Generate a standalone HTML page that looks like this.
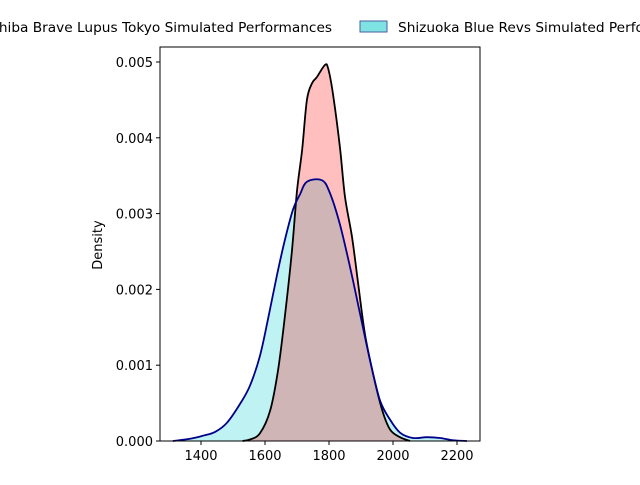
<!DOCTYPE html>
<html><head><meta charset="utf-8"><style>body{margin:0;background:#fff}svg{font-family:"DejaVu Sans","Liberation Sans",sans-serif}</style></head>
<body>
<svg id="c" width="640" height="480" viewBox="0 0 640 480">
<g id="plot"></g>
<g id="axes"></g>
<g>
<text x="332" y="32" font-size="13.7" text-anchor="end">Chiba Brave Lupus Tokyo Simulated Performances</text>
<rect x="360" y="21" width="27" height="11" fill="#80e3e3" stroke="#4a5fa0" stroke-width="1"/>
<text x="398" y="32" font-size="13.7">Shizuoka Blue Revs Simulated Performances</text>
</g>
</svg>
<script>
const chibaX=[1530,1553,1584,1616,1641,1662,1684,1700,1716,1731,1747,1762,1787,1797,1812,1834,1850,1872,1891,1912,1937,1966,1991,2022,2053];
const chibaY=[0,0.00002,0.0001,0.0004,0.00094,0.00164,0.0025,0.0033,0.00384,0.0045,0.00472,0.0048,0.00496,0.00492,0.00459,0.00388,0.00322,0.00269,0.00208,0.00142,0.0009,0.00041,0.00015,0.00005,0];
const shizX=[1312,1366,1406,1444,1481,1522,1553,1584,1609,1637,1662,1688,1709,1731,1778,1803,1834,1866,1897,1928,1959,1991,2022,2062,2106,2147,2188,2231];
const shizY=[0,0.00003,0.00007,0.00012,0.00024,0.00049,0.00073,0.00112,0.0016,0.00218,0.00265,0.00306,0.00325,0.00342,0.00344,0.00327,0.00286,0.00229,0.00168,0.00107,0.00054,0.00028,0.00011,0.00004,0.00005,0.00004,0.00001,0];
const xTicks=[1400,1600,1800,2000,2200];
const yTicks=[0,0.001,0.002,0.003,0.004,0.005];
const yLabels=["0.000","0.001","0.002","0.003","0.004","0.005"];
const L=160,R=480,T=47,B=441;
function sx(v){return 201+(v-1400)*0.32;}
function sy(v){return 441-v*75800;}
const NS="http://www.w3.org/2000/svg";
function mk(t,a,p){const e=document.createElementNS(NS,t);for(const k in a)e.setAttribute(k,a[k]);p.appendChild(e);return e;}
function path(xs,ys){let d="";for(let i=0;i<xs.length;i++){const x=sx(xs[i]),y=sy(ys[i]);
 if(i==0){d+="M"+x+","+y;continue;}
 const x0=sx(xs[Math.max(0,i-2)]),y0=sy(ys[Math.max(0,i-2)]),x1=sx(xs[i-1]),y1=sy(ys[i-1]),x3=sx(xs[Math.min(xs.length-1,i+1)]),y3=sy(ys[Math.min(xs.length-1,i+1)]);
 d+=" C"+(x1+(x-x0)/6)+","+(y1+(y-y0)/6)+" "+(x-(x3-x1)/6)+","+(y-(y3-y1)/6)+" "+x+","+y;}
 return d;}
const plot=document.getElementById('plot');
let pS=path(shizX,shizY),pC=path(chibaX,chibaY);
let e=mk('path',{d:pS+" L"+sx(shizX[shizX.length-1])+","+B+" L"+sx(shizX[0])+","+B+"Z",fill:"#00cccc","fill-opacity":"0.25",stroke:"none"},plot);


e=mk('path',{d:pC+" L"+sx(chibaX[chibaX.length-1])+","+B+" L"+sx(chibaX[0])+","+B+"Z",fill:"#ff0000","fill-opacity":"0.25",stroke:"none"},plot);


e=mk('path',{d:pC,fill:"none",stroke:"#000",'stroke-width':"1.8"},plot);


e=mk('path',{d:pS,fill:"none",stroke:"#00008b",'stroke-width':"1.8"},plot);


const ax=document.getElementById('axes');
e=mk('rect',{x:L,y:T,width:R-L,height:B-T,fill:"none",stroke:"#000",'stroke-width':"1"},ax);


xTicks.forEach(v=>{const x=sx(v);mk('line',{x1:x,x2:x,y1:B,y2:B+4,stroke:"#000"},ax);
 const t=mk('text',{x:x,y:B+19,'font-size':"13",'text-anchor':"middle"},ax);t.textContent=v;
 
 });
yTicks.forEach((v,i)=>{const y=sy(v);mk('line',{x1:L-4,x2:L,y1:y,y2:y,stroke:"#000"},ax);
 const t=mk('text',{x:L-7,y:y+5,'font-size':"13",'text-anchor':"end"},ax);t.textContent=yLabels[i];
 
 });
const yl=mk('text',{x:0,y:0,'font-size':"13",'text-anchor':"middle",transform:"translate(102,245) rotate(-90)"},ax);yl.textContent="Density";


</script>
</body></html>
